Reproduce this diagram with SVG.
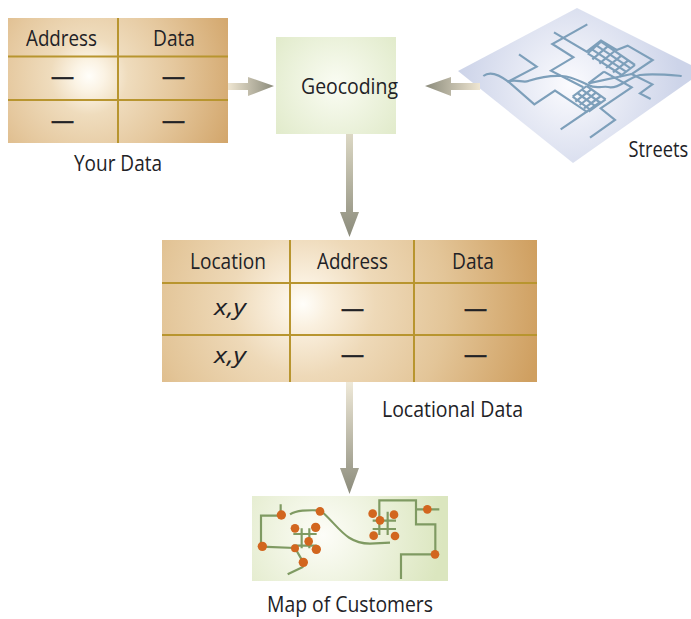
<svg xmlns="http://www.w3.org/2000/svg" width="691" height="619" viewBox="0 0 691 619">
<style>
text{font-family:"Open Sans","Liberation Sans",sans-serif;font-size:22px;fill:#222226}
.dash{stroke:#222226;stroke-width:.7}
.g{stroke:#b8952f;stroke-width:2;fill:none}
.s{stroke:#7d9fba;stroke-width:6.500;fill:none;stroke-linejoin:miter}
.m{stroke:#7f9a62;stroke-width:6.500;fill:none}
.d{fill:#d2661f}
</style>
<defs>
<radialGradient id="t1" gradientUnits="userSpaceOnUse" cx="89" cy="76" r="155"><stop offset="0" stop-color="#fffefa"/><stop offset=".1" stop-color="#fbf3e4"/><stop offset=".25" stop-color="#efdcbd"/><stop offset=".55" stop-color="#e5c89e"/><stop offset="1" stop-color="#d2a56a"/></radialGradient>
<radialGradient id="t2" gradientUnits="userSpaceOnUse" cx="303" cy="304" r="240"><stop offset="0" stop-color="#fffefa"/><stop offset=".1" stop-color="#faf0df"/><stop offset=".3" stop-color="#eed9b8"/><stop offset=".6" stop-color="#e3c598"/><stop offset="1" stop-color="#cf9f60"/></radialGradient>
<radialGradient id="geo" gradientUnits="userSpaceOnUse" cx="336" cy="85" r="80"><stop offset="0" stop-color="#fafcf3"/><stop offset="1" stop-color="#e0eac9"/></radialGradient>
<radialGradient id="st" gradientUnits="userSpaceOnUse" cx="570" cy="85" r="110"><stop offset="0" stop-color="#fbfbfe"/><stop offset="1" stop-color="#cdd4e9"/></radialGradient>
<radialGradient id="mp" gradientUnits="userSpaceOnUse" cx="323" cy="535" r="120"><stop offset="0" stop-color="#fdfdf8"/><stop offset="1" stop-color="#dbe6bf"/></radialGradient>
<linearGradient id="a1" gradientUnits="userSpaceOnUse" x1="228" y1="0" x2="274" y2="0"><stop offset="0" stop-color="#efe6d2"/><stop offset="1" stop-color="#8b8b7b"/></linearGradient>
<linearGradient id="a2" gradientUnits="userSpaceOnUse" x1="480" y1="0" x2="425" y2="0"><stop offset="0" stop-color="#efe6d2"/><stop offset="1" stop-color="#8b8b7b"/></linearGradient>
<linearGradient id="a3" gradientUnits="userSpaceOnUse" x1="0" y1="134" x2="0" y2="237"><stop offset="0" stop-color="#dcd8c4"/><stop offset="1" stop-color="#8b8b7b"/></linearGradient>
<linearGradient id="a4" gradientUnits="userSpaceOnUse" x1="0" y1="382" x2="0" y2="494"><stop offset="0" stop-color="#efe9d8"/><stop offset="1" stop-color="#8b8b7b"/></linearGradient>
</defs>
<g id="your-data">
<rect x="8" y="18" width="220" height="125" fill="url(#t1)"/>
<path class="g" d="M8 56.500H228M8 100H228M118 18V143"/>
<text x="26" y="46" textLength="71" lengthAdjust="spacingAndGlyphs">Address</text>
<text x="153" y="46" textLength="42" lengthAdjust="spacingAndGlyphs">Data</text>
<text class="dash" x="51" y="84" textLength="23" lengthAdjust="spacingAndGlyphs">—</text>
<text class="dash" x="162" y="84" textLength="23" lengthAdjust="spacingAndGlyphs">—</text>
<text class="dash" x="51" y="128" textLength="23" lengthAdjust="spacingAndGlyphs">—</text>
<text class="dash" x="162" y="128" textLength="23" lengthAdjust="spacingAndGlyphs">—</text>
<text x="74" y="171" textLength="88" lengthAdjust="spacingAndGlyphs">Your Data</text>
</g>
<g id="geocoding">
<rect x="276" y="37" width="120" height="97" fill="url(#geo)"/>
<text x="301" y="94" textLength="97" lengthAdjust="spacingAndGlyphs">Geocoding</text>
</g>
<g id="streets">
<polygon points="577,8 691,65 691,80 573,163 458,71" fill="url(#st)"/>
<g transform="translate(440 0) scale(.33333)">
<path class="s" d="M342 97L440 155L483 122L530 150L563 137L638 180L575 222L637 253L600 280L632 297"/>
<path class="s" d="M442 73L337 132L400 172L333 212L430 262"/>
<path class="s" d="M237 163L290 200L205 245L283 313L345 272L440 335L362 388"/>
<path class="s" d="M575 222L445 250M492 215L445 250M492 215L575 262L482 325L525 360L450 413M440 335L482 305"/>
<path class="s" d="M130 228C150 212 175 222 205 245C225 235 250 250 265 243C290 235 320 225 365 228C400 230 420 245 445 255C470 270 490 255 510 262C540 265 560 235 600 225C640 220 690 225 725 228"/>
<path class="s" d="M443 160L545 225M456 148L558 215M470 137L572 205M483 125L585 195M443 160L483 125M457 178L503 139M478 191L524 153M498 204L544 167M519 217L565 181M539 230L585 195"/>
<path class="s" d="M398 290L452 330M412 279L467 319M426 269L482 309M440 258L497 298M398 290L440 258M406 305L454 268M419 315L468 278M432 325L483 288M446 335L497 298"/>
</g>
<text transform="translate(628.500 157) scale(.83 1)">Streets</text>
</g>
<g id="locational-data">
<rect x="162" y="240" width="375" height="142" fill="url(#t2)"/>
<path class="g" d="M162 283H537M162 335H537M290 240V382M414 240V382"/>
<text x="190" y="269" textLength="76" lengthAdjust="spacingAndGlyphs">Location</text>
<text x="317" y="269" textLength="71" lengthAdjust="spacingAndGlyphs">Address</text>
<text x="452" y="269" textLength="42" lengthAdjust="spacingAndGlyphs">Data</text>
<text x="214" y="315" textLength="32" lengthAdjust="spacingAndGlyphs" font-style="italic">x,y</text>
<text x="214" y="363" textLength="32" lengthAdjust="spacingAndGlyphs" font-style="italic">x,y</text>
<text class="dash" x="341" y="316" textLength="23" lengthAdjust="spacingAndGlyphs">—</text>
<text class="dash" x="464" y="316" textLength="23" lengthAdjust="spacingAndGlyphs">—</text>
<text class="dash" x="341" y="362" textLength="23" lengthAdjust="spacingAndGlyphs">—</text>
<text class="dash" x="464" y="362" textLength="23" lengthAdjust="spacingAndGlyphs">—</text>
<text x="382" y="417" textLength="141" lengthAdjust="spacingAndGlyphs">Locational Data</text>
</g>
<g id="map-of-customers">
<rect x="252" y="496" width="196" height="85" fill="url(#mp)"/>
<g transform="translate(240 485) scale(.33333)">
<path class="m" d="M122 58V92H63V185L165 189L190 232M190 245L143 268"/>
<path class="m" d="M150 88C170 75 200 75 240 76M250 84C300 130 320 175 390 176L450 173"/>
<path class="m" d="M160 147H230M160 182H230M185 130V190M208 130V190"/>
<path class="m" d="M398 107H468M398 132H468M418 150V46H528V118H586V208H483V282M443 80V150M528 73H598"/>
<circle class="d" cx="124" cy="90" r="14"/><circle class="d" cx="240" cy="79" r="13"/><circle class="d" cx="165" cy="130" r="13"/><circle class="d" cx="227" cy="127" r="14"/><circle class="d" cx="206" cy="169" r="13"/><circle class="d" cx="229" cy="193" r="14"/><circle class="d" cx="165" cy="190" r="12"/><circle class="d" cx="190" cy="232" r="14"/><circle class="d" cx="67" cy="184" r="14"/><circle class="d" cx="398" cy="86" r="13"/><circle class="d" cx="462" cy="89" r="13"/><circle class="d" cx="420" cy="106" r="13"/><circle class="d" cx="401" cy="152" r="13"/><circle class="d" cx="465" cy="153" r="13"/><circle class="d" cx="562" cy="73" r="13"/><circle class="d" cx="585" cy="208" r="13"/>
</g>
<text x="267" y="612" textLength="166" lengthAdjust="spacingAndGlyphs">Map of Customers</text>
</g>
<g id="connectors">
<path d="M228 83H248V77L274 86L248 96V90H228Z" fill="url(#a1)"/>
<path d="M480 83H451V77L425 86L451 96V90H480Z" fill="url(#a2)"/>
<path d="M346 134H353V212H359L349.500 237L340 212H346Z" fill="url(#a3)"/>
<path d="M346 382H353V468H359L349.500 494L340 468H346Z" fill="url(#a4)"/>
</g>
</svg>
